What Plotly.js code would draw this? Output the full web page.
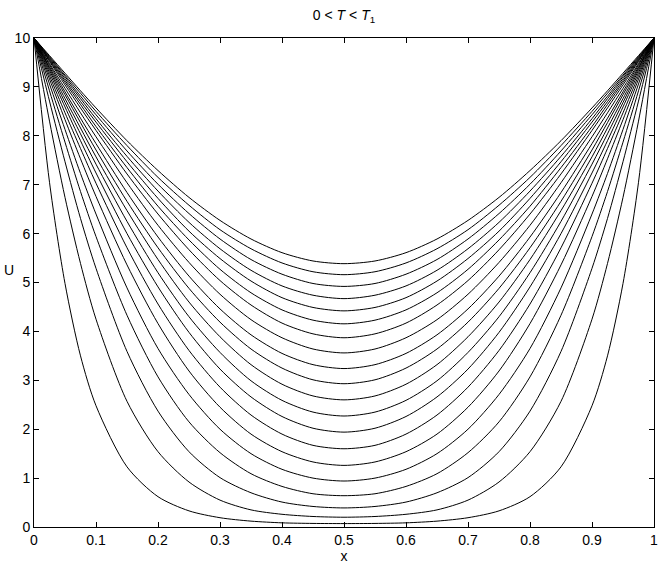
<!DOCTYPE html>
<html>
<head>
<meta charset="utf-8">
<script src="https://cdn.plot.ly/plotly-3.0.1.min.js"></script>
<style>
  html, body { margin: 0; padding: 0; background: #fff; }
  #chart { width: 664px; height: 567px; }
</style>
</head>
<body>
<div id="chart"></div>
<script>
	'use strict';

	const xs = [0, 0.025, 0.05, 0.075, 0.1, 0.15, 0.2, 0.25, 0.3, 0.35, 0.4, 0.45, 0.5,
		0.55, 0.6, 0.65, 0.7, 0.75, 0.8, 0.85, 0.9, 0.925, 0.95, 0.975, 1];

	// U profiles, latest (top) to earliest (bottom)
	const u20 = [10, 9.64, 9.28, 8.92, 8.57, 7.90, 7.29, 6.74, 6.27, 5.89, 5.61, 5.44, 5.385, 5.44, 5.61, 5.89, 6.27, 6.74, 7.29, 7.90, 8.57, 8.92, 9.28, 9.64, 10];
	const u19 = [10, 9.62, 9.24, 8.87, 8.50, 7.80, 7.15, 6.58, 6.08, 5.69, 5.40, 5.22, 5.16, 5.22, 5.40, 5.69, 6.08, 6.58, 7.15, 7.80, 8.50, 8.87, 9.24, 9.62, 10];
	const u18 = [10, 9.60, 9.21, 8.81, 8.43, 7.69, 7.01, 6.41, 5.89, 5.47, 5.17, 4.98, 4.92, 4.98, 5.17, 5.47, 5.89, 6.41, 7.01, 7.69, 8.43, 8.81, 9.21, 9.60, 10];
	const u17 = [10, 9.58, 9.17, 8.76, 8.35, 7.58, 6.87, 6.23, 5.69, 5.25, 4.93, 4.74, 4.67, 4.74, 4.93, 5.25, 5.69, 6.23, 6.87, 7.58, 8.35, 8.76, 9.17, 9.58, 10];
	const u16 = [10, 9.56, 9.13, 8.70, 8.28, 7.47, 6.72, 6.05, 5.49, 5.03, 4.69, 4.49, 4.42, 4.49, 4.69, 5.03, 5.49, 6.05, 6.72, 7.47, 8.28, 8.70, 9.13, 9.56, 10];
	const u15 = [10, 9.54, 9.09, 8.64, 8.19, 7.35, 6.56, 5.87, 5.27, 4.79, 4.44, 4.23, 4.155, 4.23, 4.44, 4.79, 5.27, 5.87, 6.56, 7.35, 8.19, 8.64, 9.09, 9.54, 10];
	const u14 = [10, 9.52, 9.04, 8.57, 8.11, 7.22, 6.40, 5.67, 5.04, 4.54, 4.17, 3.95, 3.87, 3.95, 4.17, 4.54, 5.04, 5.67, 6.40, 7.22, 8.11, 8.57, 9.04, 9.52, 10];
	const u13 = [10, 9.48, 8.97, 8.47, 7.98, 7.04, 6.17, 5.41, 4.76, 4.24, 3.87, 3.64, 3.56, 3.64, 3.87, 4.24, 4.76, 5.41, 6.17, 7.04, 7.98, 8.47, 8.97, 9.48, 10];
	const u12 = [10, 9.45, 8.90, 8.36, 7.84, 6.84, 5.93, 5.13, 4.46, 3.93, 3.55, 3.32, 3.24, 3.32, 3.55, 3.93, 4.46, 5.13, 5.93, 6.84, 7.84, 8.36, 8.90, 9.45, 10];
	const u11 = [10, 9.41, 8.84, 8.27, 7.71, 6.66, 5.71, 4.88, 4.19, 3.64, 3.25, 3.01, 2.93, 3.01, 3.25, 3.64, 4.19, 4.88, 5.71, 6.66, 7.71, 8.27, 8.84, 9.41, 10];
	const u10 = [10, 9.38, 8.76, 8.16, 7.57, 6.47, 5.47, 4.60, 3.89, 3.32, 2.92, 2.68, 2.60, 2.68, 2.92, 3.32, 3.89, 4.60, 5.47, 6.47, 7.57, 8.16, 8.76, 9.38, 10];
	const u9 = [10, 9.34, 8.68, 8.04, 7.42, 6.25, 5.20, 4.30, 3.57, 2.99, 2.59, 2.35, 2.27, 2.35, 2.59, 2.99, 3.57, 4.30, 5.20, 6.25, 7.42, 8.04, 8.68, 9.34, 10];
	const u8 = [10, 9.29, 8.59, 7.90, 7.24, 6.00, 4.91, 3.98, 3.23, 2.66, 2.26, 2.02, 1.94, 2.02, 2.26, 2.66, 3.23, 3.98, 4.91, 6.00, 7.24, 7.90, 8.59, 9.29, 10];
	const u7 = [10, 9.23, 8.47, 7.74, 7.03, 5.71, 4.56, 3.61, 2.86, 2.29, 1.90, 1.67, 1.60, 1.67, 1.90, 2.29, 2.86, 3.61, 4.56, 5.71, 7.03, 7.74, 8.47, 9.23, 10];
	const u6 = [10, 9.16, 8.33, 7.53, 6.76, 5.36, 4.16, 3.19, 2.45, 1.90, 1.54, 1.33, 1.26, 1.33, 1.54, 1.90, 2.45, 3.19, 4.16, 5.36, 6.76, 7.53, 8.33, 9.16, 10];
	const u5 = [10, 9.06, 8.13, 7.23, 6.40, 4.89, 3.65, 2.71, 2.00, 1.50, 1.18, 1.00, 0.94, 1.00, 1.18, 1.50, 2.00, 2.71, 3.65, 4.89, 6.40, 7.23, 8.13, 9.06, 10];
	const u4 = [10, 8.92, 7.87, 6.86, 5.94, 4.33, 3.07, 2.15, 1.52, 1.09, 0.83, 0.68, 0.64, 0.68, 0.83, 1.09, 1.52, 2.15, 3.07, 4.33, 5.94, 6.86, 7.87, 8.92, 10];
	const u3 = [10, 8.71, 7.47, 6.31, 5.29, 3.59, 2.37, 1.54, 1.01, 0.70, 0.51, 0.42, 0.39, 0.42, 0.51, 0.70, 1.01, 1.54, 2.37, 3.59, 5.29, 6.31, 7.47, 8.71, 10];
	const u2 = [10, 8.30, 6.74, 5.39, 4.25, 2.57, 1.54, 0.92, 0.55, 0.35, 0.26, 0.215, 0.20, 0.215, 0.26, 0.35, 0.55, 0.92, 1.54, 2.57, 4.25, 5.39, 6.74, 8.30, 10];
	const u1 = [10, 7.05, 4.98, 3.50, 2.48, 1.23, 0.62, 0.33, 0.19, 0.12, 0.085, 0.073, 0.07, 0.073, 0.085, 0.12, 0.19, 0.33, 0.62, 1.23, 2.48, 3.50, 4.98, 7.05, 10];

	const profiles = [u20, u19, u18, u17, u16, u15, u14, u13, u12, u11, u10, u9, u8, u7, u6, u5, u4, u3, u2, u1];

	const xTickVals = [0, 0.1, 0.2, 0.3, 0.4, 0.5, 0.6, 0.7, 0.8, 0.9, 1];
	const xTickText = ['0', '0.1', '0.2', '0.3', '0.4', '0.5', '0.6', '0.7', '0.8', '0.9', '1'];
	const yTickVals = [0, 1, 2, 3, 4, 5, 6, 7, 8, 9, 10];

	const FONT = 'Liberation Sans, Arial, Helvetica, sans-serif';
	const SIZE = 14;

	/**
	* one black line per time step
	*/
	const data = profiles.map(( u ) => ({
		x: xs,
		y: u,
		type: 'scatter',
		mode: 'lines',
		line: { color: '#000', width: 1, shape: 'spline', smoothing: 0.8 },
		hoverinfo: 'skip',
		showlegend: false,
	}));

	// matlab style boxed axes, ticks inside on all sides
	const axisBase = {
		showline: true,
		linecolor: '#000',
		linewidth: 1,
		mirror: 'allticks',
		ticks: 'inside',
		ticklen: 5,
		tickcolor: '#000',
		tickwidth: 1,
		showgrid: false,
		zeroline: false,
		automargin: false,
		tickfont: { family: FONT, size: SIZE, color: '#000' },
	};

	const layout = {
		width: 664,
		height: 567,
		margin: { l: 34, r: 10, t: 38, b: 40 },
		paper_bgcolor: '#fff',
		plot_bgcolor: '#fff',
		font: { family: FONT, size: SIZE, color: '#000' },
		title: {
			text: '0 &lt; <i>T</i> &lt; <i>T</i><sub>1</sub>',
			font: { family: FONT, size: SIZE, color: '#000' },
			x: 0.5,
			xref: 'paper',
			xanchor: 'center',
			y: 0.974,
			yref: 'container',
			yanchor: 'middle',
		},
		xaxis: Object.assign({}, axisBase, {
			range: [0, 1],
			tickmode: 'array',
			tickvals: xTickVals,
			ticktext: xTickText,
			title: { text: 'x', font: { family: FONT, size: SIZE, color: '#000' }, standoff: 1 },
		}),
		yaxis: Object.assign({}, axisBase, {
			range: [0, 10],
			tickmode: 'array',
			tickvals: yTickVals,
		}),
		// U label sits upright, so it is an annotation rather than a rotated axis title
		annotations: [{
			text: 'U',
			xref: 'paper', yref: 'paper',
			x: -0.04, y: 0.525,
			xanchor: 'center', yanchor: 'middle',
			showarrow: false,
			font: { family: FONT, size: SIZE, color: '#000' },
		}],
	};

	Plotly.newPlot('chart', data, layout, { displayModeBar: false, staticPlot: true });
</script>
</body>
</html>
